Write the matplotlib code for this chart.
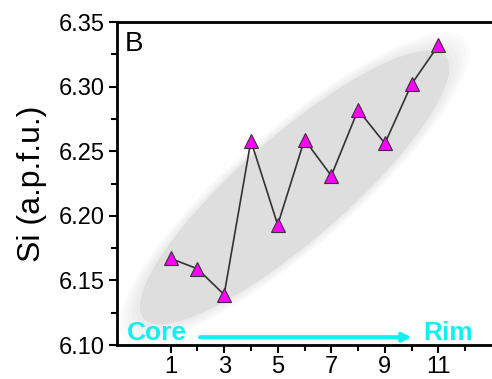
import numpy as np
import matplotlib
matplotlib.use('Agg')
import matplotlib.pyplot as plt

plt.rcParams['font.family'] = ['Liberation Sans', 'DejaVu Sans']

# Si content along the traverse, core -> rim
spot = [1, 2, 3, 4, 5, 6, 7, 8, 9, 10, 11]
si = [6.167, 6.159, 6.139, 6.258, 6.193, 6.259, 6.231, 6.282, 6.256, 6.302, 6.332]

fig = plt.figure(figsize=(4.92, 3.79), dpi=100)
ax = fig.add_axes([117/492, 34/379, 375/492, 323/379])
ax.set_xlim(-1, 13)
ax.set_ylim(6.10, 6.35)

# grey trend envelope (built in pixel units so the tilt looks right)
sx = 375/14.0          # px per x unit
sy = 323/0.25          # px per y unit
cx, cy = 5.63, 6.222
a, b, th = 222.0, 58.0, np.radians(41)
t = np.linspace(0, 2*np.pi, 200)

def env(k):
    px = a*k*np.cos(t)*np.cos(th) - b*k*np.sin(t)*np.sin(th)
    py = a*k*np.cos(t)*np.sin(th) + b*k*np.sin(t)*np.cos(th)
    return cx + px/sx, cy + py/sy

for k in np.linspace(1.02, 0.9, 6):
    ex, ey = env(k)
    ax.fill(ex, ey, color='#c8c8c8', alpha=0.07, lw=0, zorder=1)
ex, ey = env(0.9)
ax.fill(ex, ey, color='#dadada', alpha=0.7, lw=0, zorder=1)

ax.plot(spot, si, '-', color='#333333', lw=1.2, zorder=3)
ax.plot(spot, si, '^', ms=10, mfc='#ff00ff', mec='#333333', mew=0.8, zorder=4)

ax.set_xticks([1, 3, 5, 7, 9, 11])
ax.set_xticks([2, 4, 6, 8, 10, 12], minor=True)
ax.set_yticks([6.10, 6.15, 6.20, 6.25, 6.30, 6.35])
ax.set_yticks(np.arange(6.125, 6.35, 0.05), minor=True)
ax.set_yticklabels(['6.10', '6.15', '6.20', '6.25', '6.30', '6.35'])
ax.tick_params(which='major', length=6, width=1.5, labelsize=17, direction='out')
ax.tick_params(which='minor', length=4, width=1.5, direction='out')
ax.tick_params(axis='x', pad=2)
ax.tick_params(axis='y', pad=3)

for s in ['left', 'bottom', 'top']:
    ax.spines[s].set_linewidth(2)
ax.spines['right'].set_visible(False)

ax.set_ylabel('Si (a.p.f.u.)', fontsize=23, labelpad=8)

ax.text(-0.7, 6.343, 'B', fontsize=20, va='top', ha='left')

cyan = '#10f0f0'
ax.text(-0.65, 6.1, 'Core', fontsize=19, fontweight='bold', color=cyan,
        va='bottom', ha='left')
ax.text(12.3, 6.1, 'Rim', fontsize=19, fontweight='bold', color=cyan,
        va='bottom', ha='right')
ax.annotate('', xy=(10.1, 6.106), xytext=(2.0, 6.106),
            arrowprops=dict(arrowstyle='-|>', color=cyan, lw=3,
                            mutation_scale=12))

fig.savefig('out.png', dpi=100)
